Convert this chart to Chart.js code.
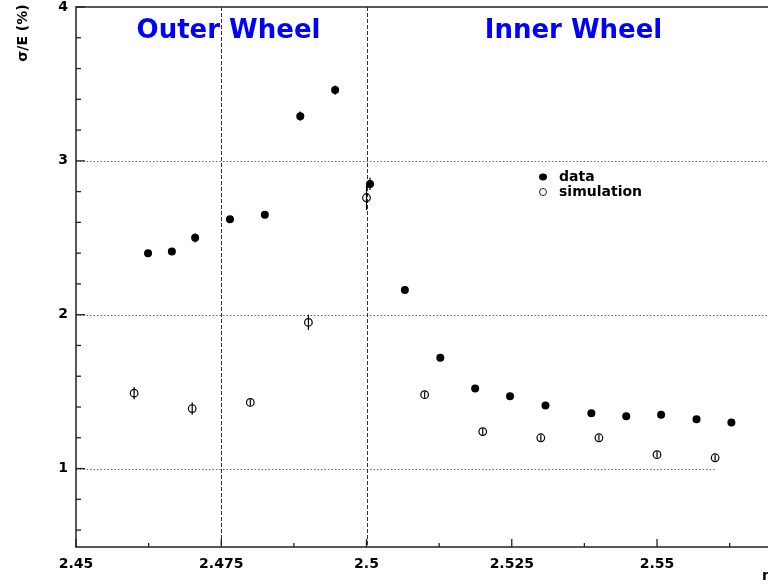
<!DOCTYPE html>
<html>
<head>
<meta charset="utf-8">
<script src="https://cdn.jsdelivr.net/npm/chart.js@4/dist/chart.umd.min.js"></script>
<style>
html,body{margin:0;padding:0;background:#fff;overflow:hidden;}
canvas{display:block;}
</style>
</head>
<body>
<canvas id="c" width="768" height="584"></canvas>
<script>
// ---- data ----
const dataEta   = [2.4624, 2.4665, 2.4705, 2.4765, 2.4825, 2.4886, 2.4946, 2.5006, 2.5066, 2.5127, 2.5187, 2.5247, 2.5308, 2.5387, 2.5447, 2.5507, 2.5568, 2.5628];
const dataSigma = [2.40, 2.41, 2.50, 2.62, 2.65, 3.29, 3.46, 2.85, 2.16, 1.72, 1.52, 1.47, 1.41, 1.36, 1.34, 1.35, 1.32, 1.30];
const dataErr   = [0.015, 0.015, 0.03, 0.015, 0.015, 0.03, 0.03, 0.04, 0.015, 0.015, 0.015, 0.015, 0.015, 0.015, 0.015, 0.015, 0.015, 0.015];

const simEta   = [2.46, 2.47, 2.48, 2.49, 2.50, 2.51, 2.52, 2.53, 2.54, 2.55, 2.56];
const simSigma = [1.49, 1.39, 1.43, 1.95, 2.76, 1.48, 1.24, 1.20, 1.20, 1.09, 1.07];
const simErr   = [0.04, 0.04, 0.02, 0.05, 0.08, 0.02, 0.02, 0.02, 0.02, 0.02, 0.02];

const xTickValues = [2.45, 2.475, 2.5, 2.525, 2.55];
const xTickLabels = ['2.45', '2.475', '2.5', '2.525', '2.55'];
const yTickValues = [1, 2, 3, 4];
const yTickLabels = ['1', '2', '3', '4'];

const regionTitles = ['Outer Wheel', 'Inner Wheel'];
const regionBounds = [2.475, 2.5];            // dashed vertical separators
const hLineY   = [3, 2, 1];                   // dotted horizontal lines
const hLineEnd = [null, null, 2.56];          // end in eta (null = to edge)

const seriesLabels = ['data', 'simulation'];
const yTitle = 'σ/E (%)';
const xTitle = 'η';

// ---- drawing ----
const FONT = '"DejaVu Sans", "Liberation Sans", sans-serif';

const overlay = {
  id: 'overlay',
  beforeDatasetsDraw(chart) {
    const ctx = chart.ctx, xs = chart.scales.x, ys = chart.scales.y, a = chart.chartArea;
    ctx.save();
    ctx.strokeStyle = '#666';
    ctx.lineWidth = 1;
    ctx.setLineDash([1.5, 2]);
    hLineY.forEach((v, i) => {
      const py = Math.round(ys.getPixelForValue(v)) + 0.5;
      const x1 = hLineEnd[i] == null ? a.right : xs.getPixelForValue(hLineEnd[i]);
      ctx.beginPath(); ctx.moveTo(a.left, py); ctx.lineTo(x1, py); ctx.stroke();
    });
    ctx.strokeStyle = '#333';
    ctx.setLineDash([4, 2]);
    regionBounds.forEach(v => {
      const px = Math.round(xs.getPixelForValue(v)) + 0.5;
      ctx.beginPath(); ctx.moveTo(px, a.top); ctx.lineTo(px, a.bottom); ctx.stroke();
    });
    ctx.setLineDash([]);
    ctx.strokeStyle = '#000';
    ctx.lineWidth = 1.2;
    const bars = (xsArr, ysArr, eArr) => {
      xsArr.forEach((x, i) => {
        const px = xs.getPixelForValue(x);
        ctx.beginPath();
        ctx.moveTo(px, ys.getPixelForValue(ysArr[i] - eArr[i]));
        ctx.lineTo(px, ys.getPixelForValue(ysArr[i] + eArr[i]));
        ctx.stroke();
      });
    };
    bars(dataEta, dataSigma, dataErr);
    bars(simEta, simSigma, simErr);
    ctx.restore();
  },
  afterDraw(chart) {
    const ctx = chart.ctx, xs = chart.scales.x, ys = chart.scales.y, a = chart.chartArea;
    ctx.save();
    ctx.strokeStyle = '#222';
    ctx.lineWidth = 1.5;
    ctx.beginPath();
    ctx.moveTo(a.right, a.top); ctx.lineTo(a.left, a.top);
    ctx.lineTo(a.left, a.bottom); ctx.lineTo(a.right, a.bottom);
    ctx.stroke();
    ctx.lineWidth = 1.3;
    const xStep = xTickValues[1] - xTickValues[0];
    const yStep = yTickValues[1] - yTickValues[0];
    xTickValues.forEach(v => {
      const px = xs.getPixelForValue(v);
      ctx.beginPath(); ctx.moveTo(px, a.bottom); ctx.lineTo(px, a.bottom - 8); ctx.stroke();
      const pm = xs.getPixelForValue(v + xStep / 2);
      if (pm < a.right) { ctx.beginPath(); ctx.moveTo(pm, a.bottom); ctx.lineTo(pm, a.bottom - 4); ctx.stroke(); }
    });
    const yMinorAll = [];
    for (let k = -2; k < yTickValues.length * 5; k++) yMinorAll.push(yTickValues[0] + k * yStep / 5);
    yMinorAll.forEach(v => {
      if (v < ys.min - 1e-9 || v > ys.max + 1e-9) return;
      const isMajor = yTickValues.some(t => Math.abs(t - v) < 1e-6);
      const py = ys.getPixelForValue(v);
      ctx.beginPath(); ctx.moveTo(a.left, py); ctx.lineTo(a.left + (isMajor ? 9 : 5), py); ctx.stroke();
    });
    // region titles
    ctx.fillStyle = '#0000ff';
    ctx.font = 'bold 26px ' + FONT;
    ctx.textAlign = 'center';
    ctx.textBaseline = 'alphabetic';
    ctx.fillText(regionTitles[0], 228.5, 38);
    ctx.fillText(regionTitles[1], 573.5, 38);
    // legend
    ctx.fillStyle = '#000';
    ctx.font = 'bold 14px ' + FONT;
    ctx.textAlign = 'left';
    ctx.textBaseline = 'middle';
    ctx.beginPath(); ctx.ellipse(543, 177, 4, 3.4, 0, 0, Math.PI * 2); ctx.fill();
    ctx.fillText(seriesLabels[0], 559, 177);
    ctx.lineWidth = 1;
    ctx.beginPath(); ctx.arc(543, 192, 3.5, 0, Math.PI * 2); ctx.stroke();
    ctx.fillText(seriesLabels[1], 559, 192);
    // axis titles
    ctx.save();
    ctx.translate(23, 33);
    ctx.rotate(-Math.PI / 2);
    ctx.textAlign = 'center';
    ctx.fillText(yTitle, 0, 0);
    ctx.restore();
    ctx.textBaseline = 'alphabetic';
    ctx.fillText(xTitle, 762, 580);
    ctx.restore();
  }
};

const fontTick = { family: FONT, size: 14, weight: 'bold' };

new Chart(document.getElementById('c'), {
  type: 'scatter',
  data: {
    datasets: [
      {
        label: seriesLabels[0],
        data: dataEta.map((x, i) => ({ x, y: dataSigma[i] })),
        pointStyle: 'circle',
        pointRadius: 4,
        backgroundColor: '#000',
        borderColor: '#000',
        borderWidth: 0
      },
      {
        label: seriesLabels[1],
        data: simEta.map((x, i) => ({ x, y: simSigma[i] })),
        pointStyle: 'circle',
        pointRadius: 3.8,
        backgroundColor: 'rgba(255,255,255,0)',
        borderColor: '#000',
        borderWidth: 1.2
      }
    ]
  },
  options: {
    responsive: false,
    animation: false,
    layout: { autoPadding: false, padding: { top: 7, right: 0, left: 0, bottom: 0 } },
    plugins: { legend: { display: false }, tooltip: { enabled: false } },
    scales: {
      x: {
        type: 'linear',
        min: 2.45,
        max: 2.5691,
        grid: { display: false, drawTicks: false },
        border: { display: false },
        ticks: {
          font: fontTick, color: '#000', padding: 9, autoSkip: false, maxRotation: 0,
          callback: (v) => { const i = xTickValues.findIndex(t => Math.abs(t - v) < 1e-9); return i >= 0 ? xTickLabels[i] : ''; }
        },
        afterBuildTicks: (s) => { s.ticks = xTickValues.map(v => ({ value: v })); },
        afterFit: (s) => { s.height = 37; s.paddingLeft = 0; s.paddingRight = 0; }
      },
      y: {
        type: 'linear',
        min: 0.49,
        max: 4,
        grid: { display: false, drawTicks: false },
        border: { display: false },
        ticks: {
          font: fontTick, color: '#000', padding: 8,
          callback: (v) => { const i = yTickValues.findIndex(t => Math.abs(t - v) < 1e-9); return i >= 0 ? yTickLabels[i] : ''; }
        },
        afterBuildTicks: (s) => { s.ticks = yTickValues.map(v => ({ value: v })); },
        afterFit: (s) => { s.width = 76; s.paddingTop = 0; s.paddingBottom = 0; }
      }
    }
  },
  plugins: [overlay]
});
</script>
</body>
</html>
